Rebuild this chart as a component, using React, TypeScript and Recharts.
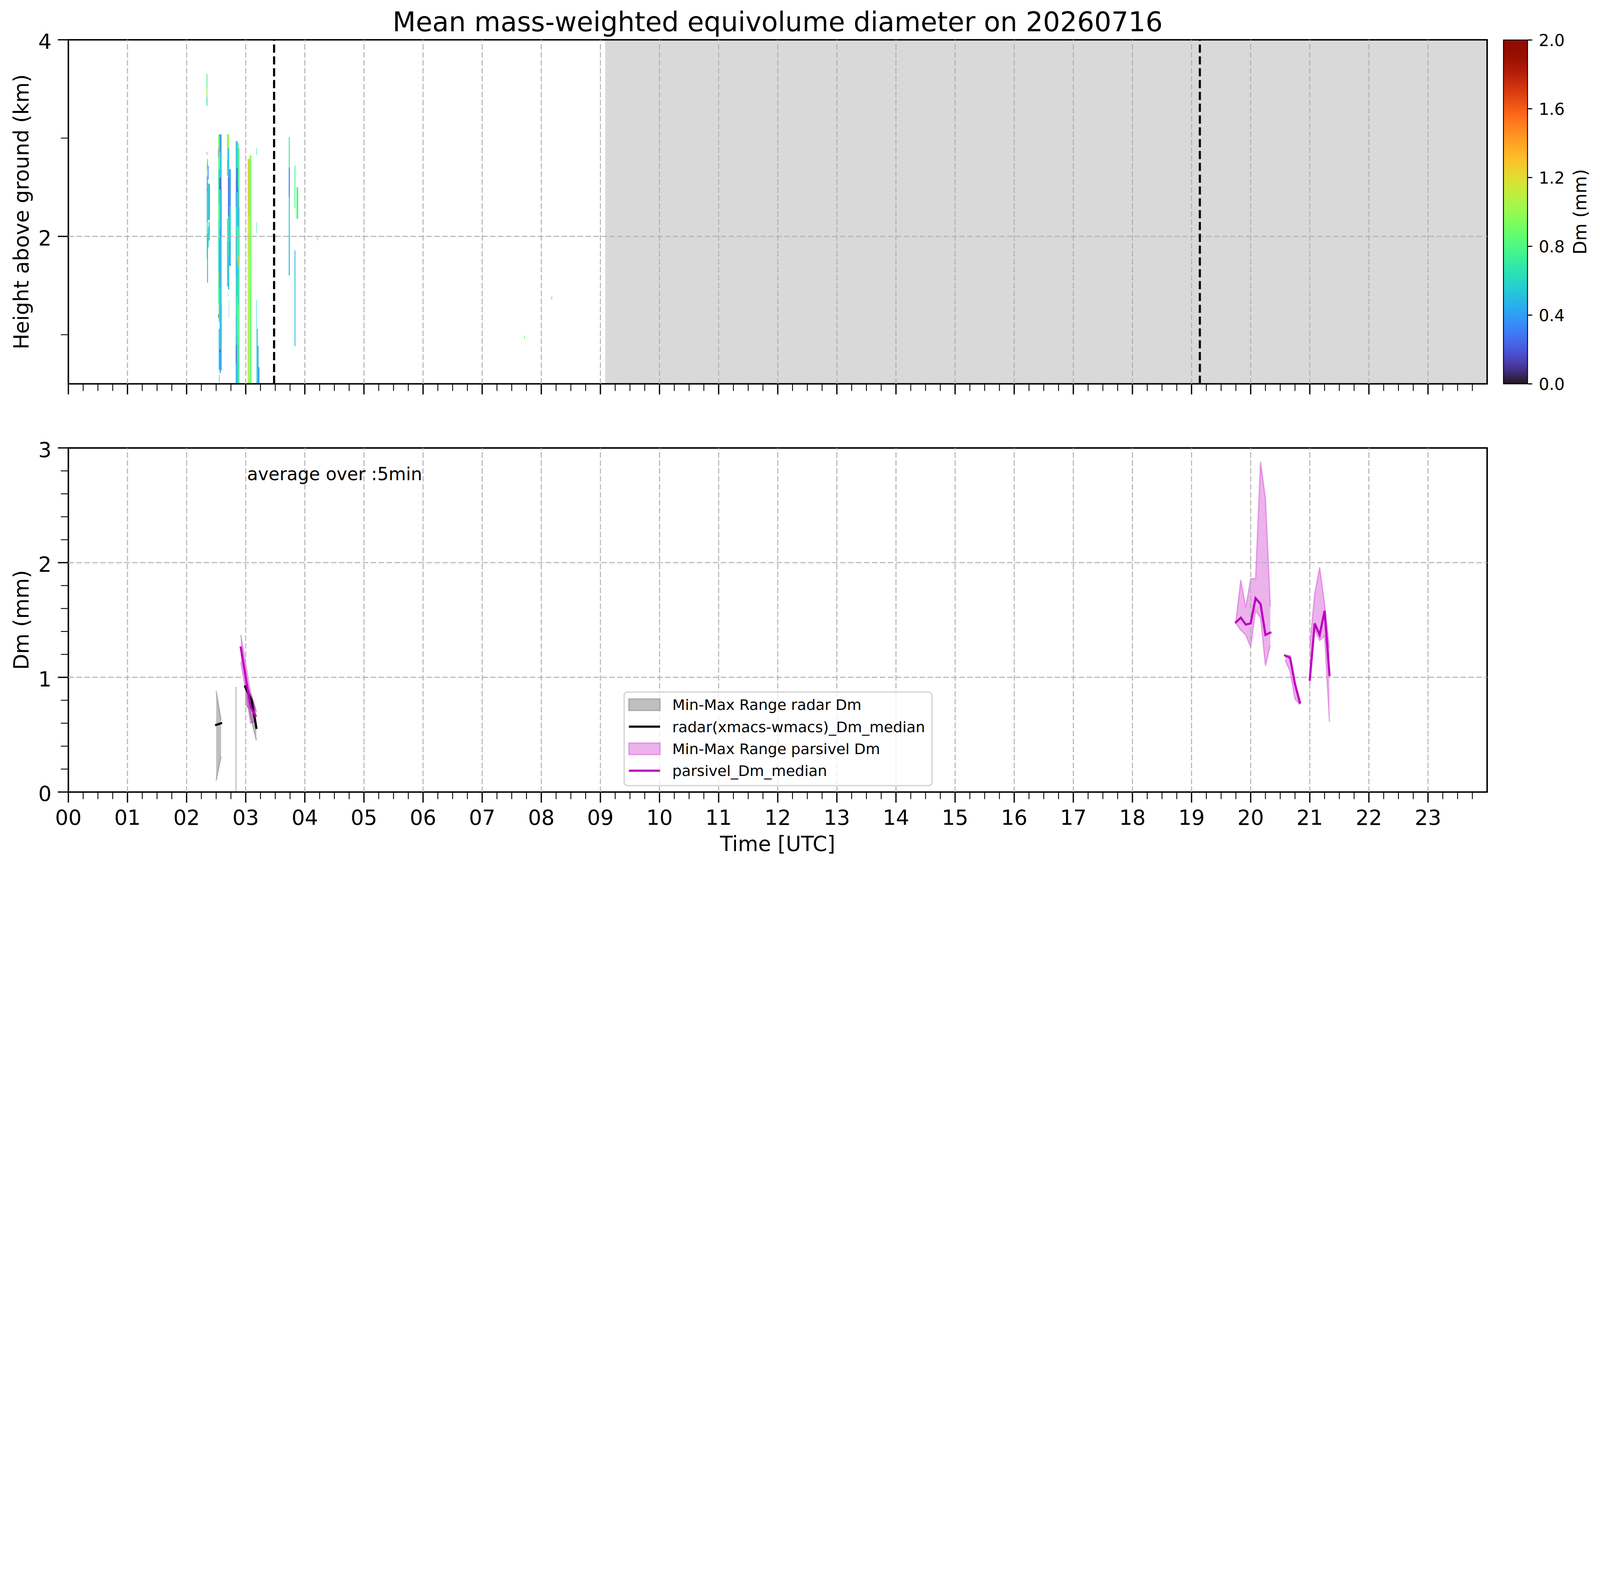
import React from "react";
import {
  Area,
  ComposedChart,
  Line,
  ReferenceArea,
  ReferenceLine,
  XAxis,
  YAxis,
} from "recharts";

const FONT = "'DejaVu Sans', sans-serif";
const GRID = "#b0b0b0";
const MAGENTA = "#bf00bf";
const FIG_W = 7442;
const FIG_H = 4031;

// ---- axes -----------------------------------------------------------------
const HOUR_LABELS = [
  "00", "01", "02", "03", "04", "05", "06", "07", "08", "09", "10", "11",
  "12", "13", "14", "15", "16", "17", "18", "19", "20", "21", "22", "23",
];
const X_TICKS = HOUR_LABELS.flatMap((_, h) => [h, h + 0.25, h + 0.5, h + 0.75]);
const GRID_HOURS = HOUR_LABELS.map((_, h) => h).slice(1);
const TOP_Y_TICKS = [1, 2, 3, 4];
const TOP_Y_MAJOR = [2, 4];
const BOT_Y_TICKS = Array.from({ length: 16 }, (_, i) => i / 5);
const BOT_Y_GRID = [1, 2];
const CB_TICKS = [0, 0.4, 0.8, 1.2, 1.6, 2.0];

// night shading and the two event markers (hours UTC)
const NIGHT_START = 9.08;
const EVENT_LINES = [3.48, 19.14];

// ---- top panel: radar Dm curtain, strips of [h0, h1, Dm] -------------------
type Strip = { t: [number, number]; seg: [number, number, number][] };

const colA: Strip[] = [
  { t: [2.338, 2.352], seg: [[3.33, 3.42, 0.65], [3.42, 3.5, 1.0], [3.5, 3.655, 0.8]] },
  { t: [2.341, 2.348], seg: [[2.827, 2.862, 0.35], [2.615, 2.753, 0.95], [2.494, 2.615, 0.4], [2.459, 2.494, 0.15], [2.165, 2.459, 0.5], [2.14, 2.165, 0.1], [1.768, 2.14, 0.6]] },
  { t: [2.348, 2.361], seg: [[2.684, 2.787, 0.6], [2.606, 2.684, 1.05], [2.165, 2.606, 0.5], [2.027, 2.165, 0.85], [1.53, 2.027, 0.4]] },
  { t: [2.361, 2.373], seg: [[2.58, 2.718, 0.35], [2.165, 2.537, 0.6], [1.889, 2.096, 0.55]] },
  { t: [2.373, 2.393], seg: [[2.165, 2.537, 0.45], [1.958, 2.148, 0.6]] },
];

const colB: Strip[] = [
  { t: [2.535, 2.543], seg: [[2.891, 3.038, 0.9], [2.805, 2.891, 0.15], [2.476, 2.805, 0.65], [2.165, 2.476, 0.85], [1.647, 2.165, 0.6], [1.543, 1.647, 1.1], [1.319, 1.543, 0.8], [1.172, 1.206, 1.9]] },
  { t: [2.543, 2.559], seg: [[2.684, 3.038, 1.0], [2.338, 2.684, 0.6], [1.993, 2.338, 0.8], [1.5, 1.993, 0.6], [1.129, 1.5, 0.7], [0.645, 1.06, 0.5]] },
  { t: [2.559, 2.576], seg: [[2.857, 3.038, 0.3], [2.598, 2.857, 0.55], [2.476, 2.598, 0.12], [2.079, 2.476, 0.6], [1.474, 2.079, 0.4], [0.852, 1.474, 0.55], [0.818, 0.852, 0.15], [0.61, 0.818, 0.4]] },
  { t: [2.576, 2.593], seg: [[2.511, 3.038, 0.55], [1.993, 2.511, 0.4], [1.301, 1.993, 0.6], [0.636, 1.301, 0.45]] },
  { t: [2.548, 2.56], seg: [[0.515, 0.593, 0.7]] },
];

const colC: Strip[] = [
  { t: [2.684, 2.7], seg: [[2.78, 3.038, 0.85], [2.615, 2.78, 0.65], [1.95, 2.183, 0.75], [1.491, 1.95, 0.6]] },
  { t: [2.7, 2.72], seg: [[2.9, 3.038, 1.0], [2.6, 2.9, 0.5], [2.2, 2.6, 0.25], [1.8, 2.2, 0.6], [1.46, 1.8, 0.5]] },
  { t: [2.7, 2.705], seg: [[1.39, 1.42, 0.5]] },
  { t: [2.714, 2.719], seg: [[1.17, 1.35, 0.6]] },
  { t: [2.72, 2.747], seg: [[2.3, 2.684, 0.4], [1.95, 2.3, 0.55], [1.7, 1.95, 0.45]] },
];

const colD: Strip[] = [
  { t: [2.832, 2.846], seg: [[2.6, 2.969, 0.45], [2.3, 2.6, 0.3], [2.0, 2.3, 0.55], [1.6, 2.0, 0.4], [1.2, 1.6, 0.6], [0.9, 1.2, 0.45], [0.7, 0.9, 0.15], [0.5, 0.7, 0.4]] },
  { t: [2.846, 2.865], seg: [[2.7, 2.969, 0.6], [2.45, 2.7, 0.2], [2.1, 2.45, 0.55], [1.75, 2.1, 0.7], [1.4, 1.75, 0.55], [1.0, 1.4, 0.75], [0.7, 1.0, 0.6], [0.5, 0.7, 0.5]] },
  { t: [2.865, 2.88], seg: [[2.5, 2.95, 0.7], [2.1, 2.5, 0.45], [1.7, 2.1, 0.8], [1.3, 1.7, 0.6], [0.9, 1.3, 0.8], [0.5, 0.9, 0.65]] },
  { t: [2.88, 2.895], seg: [[2.3, 2.895, 0.85], [1.8, 2.3, 0.6], [1.7, 1.8, 1.4], [1.3, 1.7, 0.75], [0.5, 1.3, 0.8]] },
];

const colE: Strip[] = [
  { t: [3.032, 3.05], seg: [[2.0, 2.787, 1.1], [1.2, 2.0, 1.05], [0.5, 1.2, 1.0]] },
  { t: [3.05, 3.064], seg: [[2.2, 2.787, 1.4], [1.8, 2.2, 1.25], [0.5, 1.8, 1.1]] },
  { t: [3.064, 3.08], seg: [[1.5, 2.825, 1.0], [0.5, 1.5, 0.95]] },
  { t: [3.08, 3.094], seg: [[2.0, 2.825, 0.9], [0.5, 2.0, 0.85]] },
];

const colF: Strip[] = [
  { t: [3.182, 3.19], seg: [[2.826, 2.895, 0.65], [2.031, 2.145, 0.7], [0.5, 1.353, 0.6]] },
  { t: [3.19, 3.202], seg: [[0.5, 1.06, 0.5]] },
  { t: [3.202, 3.217], seg: [[0.5, 0.887, 0.45]] },
  { t: [3.217, 3.232], seg: [[0.5, 0.671, 0.4]] },
];

const colGHI: Strip[] = [
  { t: [3.728, 3.745], seg: [[2.7, 3.009, 0.75], [2.4, 2.7, 0.3], [2.0, 2.4, 0.6], [1.602, 2.0, 0.5]] },
  { t: [3.826, 3.84], seg: [[2.287, 2.72, 0.75], [0.882, 1.857, 0.5]] },
  { t: [3.858, 3.888], seg: [[2.18, 2.5, 0.8]] },
  { t: [4.208, 4.216], seg: [[1.96, 1.99, 0.6]] },
  { t: [7.71, 7.724], seg: [[0.96, 0.99, 0.9]] },
  { t: [8.17, 8.184], seg: [[1.36, 1.39, 0.8]] },
];

const HEAT_COLUMNS = [colA, colB, colC, colD, colE, colF, colGHI];

// ---- bottom panel: 5-min Dm statistics ------------------------------------
const radarT1 = [2.5, 2.583];
const radarMin1 = [0.1, 0.31];
const radarMax1 = [0.88, 0.63];
const radarMed1 = [0.585, 0.6];

const radarT2 = [2.826, 2.845];
const radarMin2 = [0, 0];
const radarMax2 = [0.91, 0.91];

const radarT3 = [2.99, 3.06, 3.1, 3.18];
const radarMin3 = [0.77, 0.72, 0.62, 0.45];
const radarMax3 = [0.95, 0.88, 0.84, 0.7];
const radarMed3 = [0.92, 0.84, 0.8, 0.56];

const parT1 = [2.917, 3.0, 3.083, 3.167];
const parMin1 = [1.13, 0.88, 0.6, 0.62];
const parMax1 = [1.37, 1.12, 0.86, 0.72];
const parMed1 = [1.26, 1.0, 0.74, 0.665];

const parT2 = [19.75, 19.833, 19.917, 20.0, 20.083, 20.167, 20.25, 20.333];
const parMin2 = [1.47, 1.41, 1.37, 1.26, 1.58, 1.52, 1.1, 1.28];
const parMax2 = [1.49, 1.85, 1.61, 1.86, 1.86, 2.88, 2.56, 1.62];
const parMed2 = [1.48, 1.52, 1.46, 1.47, 1.69, 1.64, 1.37, 1.39];

const parT3 = [20.583, 20.667, 20.75, 20.833];
const parMin3 = [1.15, 1.05, 0.81, 0.76];
const parMax3 = [1.19, 1.19, 0.96, 0.8];
const parMed3 = [1.19, 1.17, 0.94, 0.78];

const parT4 = [21.0, 21.083, 21.167, 21.25, 21.333];
const parMin4 = [0.94, 1.42, 1.32, 1.36, 0.61];
const parMax4 = [1.27, 1.73, 1.96, 1.64, 1.26];
const parMed4 = [0.98, 1.47, 1.37, 1.58, 1.02];

const LEGEND_LABELS = [
  "Min-Max Range radar Dm",
  "radar(xmacs-wmacs)_Dm_median",
  "Min-Max Range parsivel Dm",
  "parsivel_Dm_median",
];

// ---- helpers --------------------------------------------------------------
function turbo(v: number): string {
  const x = Math.min(1, Math.max(0, v));
  const r = 0.13572138 + x * (4.6153926 + x * (-42.66032258 + x * (132.13108234 + x * (-152.94239396 + x * 59.28637943))));
  const g = 0.09140261 + x * (2.19418839 + x * (4.84296658 + x * (-14.18503333 + x * (4.27729857 + x * 2.82956604))));
  const b = 0.1066733 + x * (12.64194608 + x * (-60.58204836 + x * (110.36276771 + x * (-89.90310912 + x * 27.34824973))));
  const c = (u: number) => Math.round(Math.min(1, Math.max(0, u)) * 255);
  return `rgb(${c(r)},${c(g)},${c(b)})`;
}

const zip = (t: number[], lo: number[], hi: number[], med?: number[]) =>
  t.map((tt, i) => ({ t: tt, lo: lo[i], hi: hi[i], med: med ? med[i] : null }));

const heatCells = HEAT_COLUMNS.flat().flatMap((s) =>
  s.seg.map(([h0, h1, dm]) => ({ t0: s.t[0], t1: s.t[1], h0, h1, dm }))
);

const radarGroups = [
  zip(radarT1, radarMin1, radarMax1, radarMed1),
  zip(radarT2, radarMin2, radarMax2),
  zip(radarT3, radarMin3, radarMax3, radarMed3),
];
const parGroups = [
  zip(parT1, parMin1, parMax1, parMed1),
  zip(parT2, parMin2, parMax2, parMed2),
  zip(parT3, parMin3, parMax3, parMed3),
  zip(parT4, parMin4, parMax4, parMed4),
];

const isWhole = (v: number) => Math.abs(v - Math.round(v)) < 1e-6;

function XTick(props: any) {
  const { x, y, payload, showLabel } = props;
  const v = payload.value;
  const major = isWhole(v);
  return (
    <g>
      <line x1={x} x2={x} y1={y} y2={y + (major ? 49 : 33)} stroke="#000" strokeWidth={major ? 6 : 4} />
      {showLabel && major && (
        <text x={x} y={y + 153} textAnchor="middle" fontSize={97} fontFamily={FONT} fill="#000">
          {HOUR_LABELS[Math.round(v)]}
        </text>
      )}
    </g>
  );
}

function YTick(props: any) {
  const { x, y, payload, majors } = props;
  const v = payload.value;
  const major = majors ? majors.includes(v) : isWhole(v);
  return (
    <g>
      <line x1={x - (major ? 49 : 35)} x2={x} y1={y} y2={y} stroke="#000" strokeWidth={major ? 6 : 4} />
      {major && (
        <text x={x - 78} y={y + 42} textAnchor="end" fontSize={97} fontFamily={FONT} fill="#000">
          {Math.round(v)}
        </text>
      )}
    </g>
  );
}

function CbTick(props: any) {
  const { x, y, payload } = props;
  return (
    <g>
      <line x1={x} x2={x + 22} y1={y} y2={y} stroke="#000" strokeWidth={5} />
      <text x={x + 52} y={y + 28} fontSize={76} fontFamily={FONT} fill="#000">
        {Number(payload.value).toFixed(1)}
      </text>
    </g>
  );
}

const gridLine = { stroke: GRID, strokeWidth: 4.5, strokeDasharray: "26 11" };

function TopPanel() {
  return (
    <ComposedChart width={6960} height={1860} data={heatCells} margin={{ top: 185, right: 43, bottom: 0, left: 0 }}>
      <XAxis type="number" dataKey="t0" domain={[0, 24]} ticks={X_TICKS} interval={0} allowDataOverflow
        axisLine={false} tickLine={false} tickSize={0} tickMargin={0} height={75}
        tick={(p: any) => <XTick {...p} showLabel={false} />} />
      <YAxis type="number" domain={[0.5, 4]} ticks={TOP_Y_TICKS} interval={0} allowDataOverflow
        axisLine={false} tickLine={false} tickSize={0} tickMargin={0} width={318}
        tick={(p: any) => <YTick {...p} majors={TOP_Y_MAJOR} />} />
      <ReferenceArea x1={NIGHT_START} x2={24} y1={0.5} y2={4} fill="#d9d9d9" fillOpacity={1} stroke="none" />
      {heatCells.map((c, i) => (
        <ReferenceArea key={`c${i}`} x1={c.t0} x2={c.t1} y1={c.h0} y2={c.h1}
          fill={turbo(c.dm / 2)} fillOpacity={1} stroke="none" />
      ))}
      {GRID_HOURS.map((h) => <ReferenceLine key={`g${h}`} x={h} {...gridLine} />)}
      <ReferenceLine y={2} {...gridLine} />
      {EVENT_LINES.map((t) => (
        <ReferenceLine key={`e${t}`} x={t} stroke="#000" strokeWidth={10} strokeDasharray="38 17" />
      ))}
      <ReferenceArea x1={0} x2={24} y1={0.5} y2={4} fill="none" fillOpacity={0} stroke="#000" strokeWidth={7} />
    </ComposedChart>
  );
}

function BottomPanel() {
  return (
    <ComposedChart width={6960} height={2041} margin={{ top: 93, right: 43, bottom: 0, left: 0 }}>
      <XAxis type="number" dataKey="t" domain={[0, 24]} ticks={X_TICKS} interval={0} allowDataOverflow
        axisLine={false} tickLine={false} tickSize={0} tickMargin={0} height={348}
        tick={(p: any) => <XTick {...p} showLabel />} />
      <YAxis type="number" domain={[0, 3]} ticks={BOT_Y_TICKS} interval={0} allowDataOverflow
        axisLine={false} tickLine={false} tickSize={0} tickMargin={0} width={318}
        tick={(p: any) => <YTick {...p} />} />
      {GRID_HOURS.map((h) => <ReferenceLine key={`g${h}`} x={h} {...gridLine} />)}
      {BOT_Y_GRID.map((v) => <ReferenceLine key={`h${v}`} y={v} {...gridLine} />)}
      {radarGroups.map((g, i) => (
        <Area key={`ra${i}`} data={g} dataKey={(d: any) => [d.lo, d.hi]} type="linear"
          fill="#808080" fillOpacity={0.5} stroke="#808080" strokeOpacity={0.5} strokeWidth={6}
          dot={false} activeDot={false} isAnimationActive={false} />
      ))}
      {radarGroups.filter((g) => g[0].med !== null).map((g, i) => (
        <Line key={`rm${i}`} data={g} dataKey="med" type="linear" stroke="#000" strokeWidth={10}
          strokeLinecap="square" dot={false} activeDot={false} isAnimationActive={false} />
      ))}
      {parGroups.map((g, i) => (
        <Area key={`pa${i}`} data={g} dataKey={(d: any) => [d.lo, d.hi]} type="linear"
          fill={MAGENTA} fillOpacity={0.3} stroke={MAGENTA} strokeOpacity={0.3} strokeWidth={6}
          dot={false} activeDot={false} isAnimationActive={false} />
      ))}
      {parGroups.map((g, i) => (
        <Line key={`pm${i}`} data={g} dataKey="med" type="linear" stroke={MAGENTA} strokeWidth={10}
          strokeLinecap="square" dot={false} activeDot={false} isAnimationActive={false} />
      ))}
      <ReferenceArea x1={0} x2={24} y1={0} y2={3} fill="none" fillOpacity={0} stroke="#000" strokeWidth={7} />
    </ComposedChart>
  );
}

// colour bar: its own small chart, the plot area is the bar itself
function ColorBar() {
  const stops = Array.from({ length: 33 }, (_, i) => i / 32);
  return (
    <ComposedChart width={542} height={1860} data={CB_TICKS.map((v) => ({ x: 0.5, v }))}
      margin={{ top: 186, right: 0, bottom: 0, left: 93 }}>
      <defs>
        <linearGradient id="turboGrad" x1="0" y1="1" x2="0" y2="0">
          {stops.map((st) => (
            <stop key={st} offset={st} stopColor={turbo(st)} />
          ))}
        </linearGradient>
      </defs>
      <XAxis type="number" dataKey="x" domain={[0, 1]} ticks={[]} tick={false} axisLine={false}
        tickLine={false} height={75} />
      <YAxis orientation="right" type="number" dataKey="v" domain={[0, 2]} ticks={CB_TICKS} interval={0}
        axisLine={false} tickLine={false} tickSize={0} tickMargin={0} width={337}
        tick={(p: any) => <CbTick {...p} />} />
      <ReferenceArea x1={0} x2={1} y1={0} y2={2} fill="url(#turboGrad)" fillOpacity={1} stroke="#000" strokeWidth={4} />
    </ComposedChart>
  );
}

function Overlay() {
  const rowY = [3277, 3379, 3482, 3584];
  return (
    <svg width={FIG_W} height={FIG_H} style={{ position: "absolute", left: 0, top: 0, pointerEvents: "none" }}
      fontFamily={FONT}>
      <text x={3617} y={145} textAnchor="middle" fontSize={125}>
        Mean mass-weighted equivolume diameter on 20260716
      </text>
      <text transform="translate(132,985) rotate(-90)" textAnchor="middle" fontSize={97}>
        Height above ground (km)
      </text>
      <text transform="translate(132,2883) rotate(-90)" textAnchor="middle" fontSize={97}>
        Dm (mm)
      </text>
      <text transform="translate(7378,985) rotate(-90)" textAnchor="middle" fontSize={83}>
        Dm (mm)
      </text>
      <text x={3617} y={3958} textAnchor="middle" fontSize={97}>
        Time [UTC]
      </text>
      <text x={1149} y={2233} fontSize={83}>
        average over :5min
      </text>
      <rect x={2903} y={3218} width={1432} height={435} rx={16} fill="#fff" fillOpacity={0.8}
        stroke="#d4d4d4" strokeWidth={6} />
      <rect x={2925} y={rowY[0] - 27} width={145} height={54} fill="#808080" fillOpacity={0.5}
        stroke="#808080" strokeOpacity={0.5} strokeWidth={6} />
      <line x1={2925} x2={3070} y1={rowY[1]} y2={rowY[1]} stroke="#000" strokeWidth={10} />
      <rect x={2925} y={rowY[2] - 27} width={145} height={54} fill={MAGENTA} fillOpacity={0.3}
        stroke={MAGENTA} strokeOpacity={0.3} strokeWidth={6} />
      <line x1={2925} x2={3070} y1={rowY[3]} y2={rowY[3]} stroke={MAGENTA} strokeWidth={10} />
      {LEGEND_LABELS.map((l, i) => (
        <text key={l} x={3127} y={rowY[i] + 25} fontSize={69}>
          {l}
        </text>
      ))}
    </svg>
  );
}

export default function App() {
  const vw = typeof window !== "undefined" ? window.innerWidth : FIG_W;
  const vh = typeof window !== "undefined" ? window.innerHeight : FIG_H;
  // the browser caps the window width, so shrink the whole figure to fit it
  const s = Math.min(1, vw / FIG_W, vh / FIG_H);
  return (
    <div style={{ position: "absolute", left: 0, top: 0, width: FIG_W, height: FIG_H, background: "#fff",
      overflow: "hidden", transform: `scale(${s})`, transformOrigin: "0 0" }}>
      <div style={{ position: "absolute", left: 0, top: 0 }}>
        <TopPanel />
      </div>
      <div style={{ position: "absolute", left: 0, top: 1990 }}>
        <BottomPanel />
      </div>
      <div style={{ position: "absolute", left: 6900, top: 0 }}>
        <ColorBar />
      </div>
      <Overlay />
    </div>
  );
}
